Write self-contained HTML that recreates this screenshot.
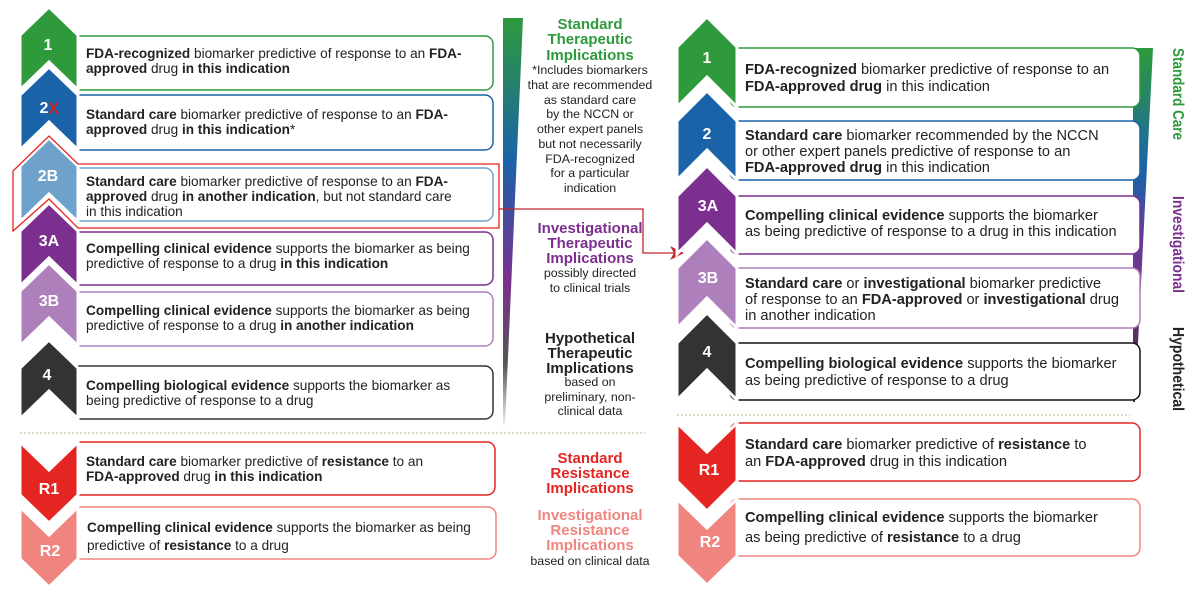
<!DOCTYPE html>
<html><head><meta charset="utf-8"><style>
html,body{margin:0;padding:0;background:#fff;}
svg{display:block;font-family:"Liberation Sans",Arial,sans-serif;}
.t{font-size:13.6px;fill:#222;}
.r{font-size:14.6px;fill:#222;}
.b{font-weight:bold;}
.n{font-weight:bold;fill:#fff;font-size:16px;text-anchor:middle;}
.h{font-weight:bold;font-size:15px;text-anchor:middle;}
.s{font-size:12.4px;fill:#222;text-anchor:middle;}
.v{font-weight:bold;font-size:16px;}
</style></head><body>
<svg width="1200" height="594" viewBox="0 0 1200 594">
<defs>
<linearGradient id="g1" x1="0" y1="0" x2="0" y2="1">
<stop offset="0" stop-color="#2e9a3c"/><stop offset="0.35" stop-color="#1a63a8"/><stop offset="0.65" stop-color="#7b2f8e"/><stop offset="0.85" stop-color="#555"/><stop offset="1" stop-color="#eee"/></linearGradient>
<linearGradient id="g2" x1="0" y1="0" x2="0" y2="1">
<stop offset="0" stop-color="#2e9a3c"/><stop offset="0.35" stop-color="#1a63a8"/><stop offset="0.65" stop-color="#7b2f8e"/><stop offset="1" stop-color="#333"/></linearGradient>
</defs>

<polygon points="503,18 523,18 505,425 503,425" fill="url(#g1)"/>
<polygon points="1133,48 1153,48 1135,402 1133,402" fill="url(#g2)"/>

<g fill="#fff" stroke-width="1.5">
<rect x="72" y="36" width="421" height="54" rx="8" stroke="#2e9a3c"/>
<rect x="72" y="95" width="421" height="55" rx="8" stroke="#1a63a8"/>
<rect x="72" y="168" width="421" height="53" rx="8" stroke="#6fa2cb"/>
<rect x="72" y="232" width="421" height="53" rx="8" stroke="#7b2f8e"/>
<rect x="72" y="292" width="421" height="54" rx="8" stroke="#ad7fbb"/>
<rect x="72" y="366" width="421" height="53" rx="8" stroke="#333"/>
<rect x="72" y="442" width="423" height="53" rx="8" stroke="#e42521"/>
<rect x="72" y="507" width="424" height="52" rx="8" stroke="#f08580"/>
</g>
<g stroke="#fff" stroke-width="3">
<polygon points="20,35 49,7 78,35 78,90 49,62 20,90" fill="#2e9a3c"/>
<polygon points="20,95 49,67 78,95 78,150 49,122 20,150" fill="#1a63a8"/>
<polygon points="20,166 49,138 78,166 78,222 49,194 20,222" fill="#6fa2cb"/>
<polygon points="20,231 49,203 78,231 78,286 49,258 20,286" fill="#7b2f8e"/>
<polygon points="20,291 49,263 78,291 78,346 49,318 20,346" fill="#ad7fbb"/>
<polygon points="20,368 49,340 78,368 78,419 49,391 20,419" fill="#333"/>
<polygon points="20,442 49,470 78,442 78,495 49,523 20,495" fill="#e42521"/>
<polygon points="20,507 49,535 78,507 78,559 49,587 20,559" fill="#f08580"/>
</g>
<polyline points="13,171 49,136 78,164 499,164 499,228 78,228 49,199 13,231 13,171" fill="none" stroke="#e42521" stroke-width="1.3"/>
<polyline points="499,209 643,209 643,253 674,253" fill="none" stroke="#c0272d" stroke-width="1.3"/>
<polygon points="684,253 670,246 674,253 670,260" fill="#c0272d"/>

<g class="n">
<text x="48" y="50">1</text>
<text x="44" y="113">2</text>
<text x="48" y="181">2B</text>
<text x="49" y="246">3A</text>
<text x="49" y="306">3B</text>
<text x="47" y="380">4</text>
<text x="49" y="494">R1</text>
<text x="50" y="556">R2</text>
</g>
<text x="48" y="114" font-weight="bold" font-size="17" fill="#c0272d">X</text>

<g class="t">
<text x="86" y="58"><tspan class="b">FDA-recognized</tspan> biomarker predictive of response to an <tspan class="b">FDA-</tspan></text>
<text x="86" y="73"><tspan class="b">approved</tspan> drug <tspan class="b">in this indication</tspan></text>
<text x="86" y="119"><tspan class="b">Standard care</tspan> biomarker predictive of response to an <tspan class="b">FDA-</tspan></text>
<text x="86" y="134"><tspan class="b">approved</tspan> drug <tspan class="b">in this indication</tspan>*</text>
<text x="86" y="186"><tspan class="b">Standard care</tspan> biomarker predictive of response to an <tspan class="b">FDA-</tspan></text>
<text x="86" y="201"><tspan class="b">approved</tspan> drug <tspan class="b">in another indication</tspan>, but not standard care</text>
<text x="86" y="216">in this indication</text>
<text x="86" y="253"><tspan class="b">Compelling clinical evidence</tspan> supports the biomarker as being</text>
<text x="86" y="268">predictive of response to a drug <tspan class="b">in this indication</tspan></text>
<text x="86" y="315"><tspan class="b">Compelling clinical evidence</tspan> supports the biomarker as being</text>
<text x="86" y="330">predictive of response to a drug <tspan class="b">in another indication</tspan></text>
<text x="86" y="390"><tspan class="b">Compelling biological evidence</tspan> supports the biomarker as</text>
<text x="86" y="405">being predictive of response to a drug</text>
<text x="86" y="466"><tspan class="b">Standard care</tspan> biomarker predictive of <tspan class="b">resistance</tspan> to an</text>
<text x="86" y="481"><tspan class="b">FDA-approved</tspan> drug <tspan class="b">in this indication</tspan></text>
<text x="87" y="532"><tspan class="b">Compelling clinical evidence</tspan> supports the biomarker as being</text>
<text x="87" y="550">predictive of <tspan class="b">resistance</tspan> to a drug</text>
</g>

<g class="h" fill="#2e9a3c"><text x="590" y="29">Standard</text><text x="590" y="44">Therapeutic</text><text x="590" y="60">Implications</text></g>
<g class="s">
<text x="590" y="74">*Includes biomarkers</text><text x="590" y="89">that are recommended</text><text x="590" y="104">as standard care</text>
<text x="590" y="118">by the NCCN or</text><text x="590" y="133">other expert panels</text><text x="590" y="148">but not necessarily</text>
<text x="590" y="163">FDA-recognized</text><text x="590" y="177">for a particular</text><text x="590" y="192">indication</text>
</g>
<g class="h" fill="#7b2f8e"><text x="590" y="233">Investigational</text><text x="590" y="248">Therapeutic</text><text x="590" y="263">Implications</text></g>
<g class="s"><text x="590" y="277">possibly directed</text><text x="590" y="292">to clinical trials</text></g>
<g class="h" fill="#222"><text x="590" y="343">Hypothetical</text><text x="590" y="358">Therapeutic</text><text x="590" y="373">Implications</text></g>
<g class="s"><text x="590" y="386">based on</text><text x="590" y="401">preliminary, non-</text><text x="590" y="415">clinical data</text></g>
<g class="h" fill="#e42521"><text x="590" y="463">Standard</text><text x="590" y="478">Resistance</text><text x="590" y="493">Implications</text></g>
<g class="h" fill="#f08580"><text x="590" y="520">Investigational</text><text x="590" y="535">Resistance</text><text x="590" y="550">Implications</text></g>
<g class="s"><text x="590" y="565">based on clinical data</text></g>

<line x1="20" y1="433" x2="645" y2="433" stroke="#c8c2a0" stroke-width="1.2" stroke-dasharray="2,2"/>
<line x1="677" y1="415" x2="1130" y2="415" stroke="#c8c2a0" stroke-width="1.2" stroke-dasharray="2,2"/>

<g fill="#fff" stroke-width="1.5">
<rect x="730" y="48" width="410" height="59" rx="8" stroke="#2e9a3c"/>
<rect x="730" y="121" width="410" height="59" rx="8" stroke="#1a63a8"/>
<rect x="730" y="196" width="410" height="58" rx="8" stroke="#7b2f8e"/>
<rect x="730" y="268" width="410" height="60" rx="8" stroke="#ad7fbb"/>
<rect x="730" y="343" width="410" height="57" rx="8" stroke="#111"/>
<rect x="730" y="423" width="410" height="58" rx="8" stroke="#e42521"/>
<rect x="730" y="499" width="410" height="57" rx="8" stroke="#f08580"/>
</g>
<g stroke="#fff" stroke-width="3">
<polygon points="677,47 707,17 737,47 737,107 707,77 677,107" fill="#2e9a3c"/>
<polygon points="677,121 707,91 737,121 737,180 707,150 677,180" fill="#1a63a8"/>
<polygon points="677,196 707,166 737,196 737,254 707,224 677,254" fill="#7b2f8e"/>
<polygon points="677,268 707,238 737,268 737,328 707,298 677,328" fill="#ad7fbb"/>
<polygon points="677,343 707,313 737,343 737,400 707,370 677,400" fill="#333"/>
<polygon points="677,423 707,452 737,423 737,481 707,511 677,481" fill="#e42521"/>
<polygon points="677,499 707,528 737,499 737,556 707,585 677,556" fill="#f08580"/>
</g>
<g class="n" font-size="17">
<text x="707" y="63">1</text>
<text x="707" y="139">2</text>
<text x="708" y="211">3A</text>
<text x="708" y="283">3B</text>
<text x="707" y="357">4</text>
<text x="709" y="475">R1</text>
<text x="710" y="547">R2</text>
</g>
<g class="r">
<text x="745" y="74"><tspan class="b">FDA-recognized</tspan> biomarker predictive of response to an</text>
<text x="745" y="91"><tspan class="b">FDA-approved drug</tspan> in this indication</text>
<text x="745" y="140"><tspan class="b">Standard care</tspan> biomarker recommended by the NCCN</text>
<text x="745" y="156">or other expert panels predictive of response to an</text>
<text x="745" y="172"><tspan class="b">FDA-approved drug</tspan> in this indication</text>
<text x="745" y="220"><tspan class="b">Compelling clinical evidence</tspan> supports the biomarker</text>
<text x="745" y="236">as being predictive of response to a drug in this indication</text>
<text x="745" y="288"><tspan class="b">Standard care</tspan> or <tspan class="b">investigational</tspan> biomarker predictive</text>
<text x="745" y="304">of response to an <tspan class="b">FDA-approved</tspan> or <tspan class="b">investigational</tspan> drug</text>
<text x="745" y="320">in another indication</text>
<text x="745" y="368"><tspan class="b">Compelling biological evidence</tspan> supports the biomarker</text>
<text x="745" y="385">as being predictive of response to a drug</text>
<text x="745" y="449"><tspan class="b">Standard care</tspan> biomarker predictive of <tspan class="b">resistance</tspan> to</text>
<text x="745" y="466">an <tspan class="b">FDA-approved</tspan> drug in this indication</text>
<text x="745" y="522"><tspan class="b">Compelling clinical evidence</tspan> supports the biomarker</text>
<text x="745" y="542">as being predictive of <tspan class="b">resistance</tspan> to a drug</text>
</g>
<text class="v" fill="#2e9a3c" transform="translate(1173,48) rotate(90)" textLength="92" lengthAdjust="spacingAndGlyphs">Standard Care</text>
<text class="v" fill="#7b2f8e" transform="translate(1173,196) rotate(90)" textLength="97" lengthAdjust="spacingAndGlyphs">Investigational</text>
<text class="v" fill="#222" transform="translate(1173,327) rotate(90)" textLength="84" lengthAdjust="spacingAndGlyphs">Hypothetical</text>
</svg>
</body></html>
